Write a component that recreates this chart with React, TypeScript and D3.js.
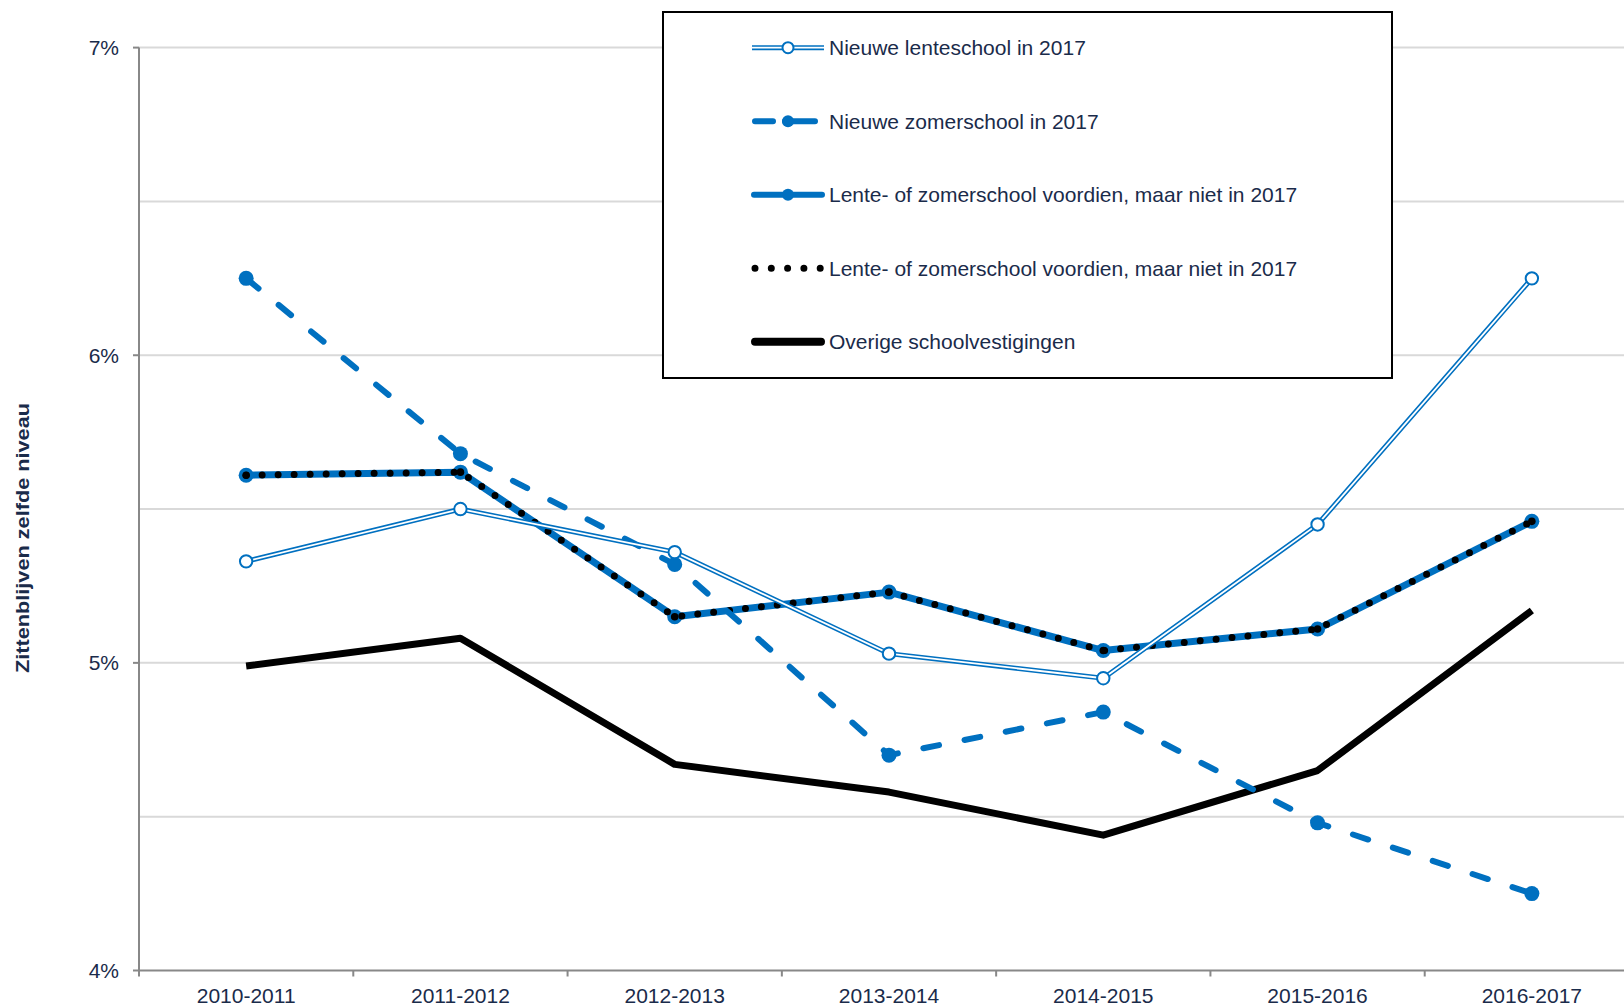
import React from 'react';
import * as d3 from 'd3';

// schooljaren op de x-as
const categories = ['2010-2011', '2011-2012', '2012-2013', '2013-2014', '2014-2015', '2015-2016', '2016-2017'];

// percentages zittenblijven per groep
const lenteNieuw = [5.33, 5.5, 5.36, 5.03, 4.95, 5.45, 6.25];
const zomerNieuw = [6.25, 5.68, 5.32, 4.7, 4.84, 4.48, 4.25];
const voordien = [5.61, 5.62, 5.15, 5.23, 5.04, 5.11, 5.46];
const overige = [4.99, 5.08, 4.67, 4.58, 4.44, 4.65, 5.17];

const gridValues = [4, 4.5, 5, 5.5, 6, 6.5, 7];
const tickLabels = [4, 5, 6, 7];

const legendLabels = [
  'Nieuwe lenteschool in 2017',
  'Nieuwe zomerschool in 2017',
  'Lente- of zomerschool voordien, maar niet in 2017',
  'Lente- of zomerschool voordien, maar niet in 2017',
  'Overige schoolvestigingen',
];

const BLUE = '#0070C0';
const TEXT = '#1A2B4A';
const FONT = '"Liberation Sans", Arial, sans-serif';

const width = 1624;
const height = 1008;

export default function App() {
  const x = d3.scaleBand<string>().domain(categories).range([139, 1639]).padding(0);
  const y = d3.scaleLinear().domain([4, 7]).range([970.5, 47.6]);
  const cx = (i: number) => (x(categories[i]) as number) + x.bandwidth() / 2;

  const line = d3
    .line<number>()
    .x((_, i) => cx(i))
    .y(d => y(d));

  const x0 = 139;
  const yBase = y(4);

  // legenda positie
  const lg = { x: 663, y: 12, w: 729, h: 366 };
  const legendY = (i: number) => 47.7 + i * 73.5;
  const sx1 = 752;
  const sx2 = 824;
  const sm = 788;

  return (
    <svg
      width={width}
      height={height}
      style={{ position: 'absolute', left: 0, top: 0, background: '#fff' }}
      fontFamily={FONT}
    >
      {/* gridlijnen */}
      {gridValues.filter(v => v > 4).map(v => (
        <line key={v} x1={x0} x2={width} y1={y(v)} y2={y(v)} stroke="#D9D9D9" strokeWidth={2} />
      ))}

      {/* assen */}
      <line x1={x0} x2={x0} y1={y(7)} y2={yBase} stroke="#888" strokeWidth={2} />
      <line x1={x0} x2={width} y1={yBase} y2={yBase} stroke="#888" strokeWidth={2} />
      {tickLabels.map(v => (
        <g key={v}>
          <line x1={x0 - 6} x2={x0} y1={y(v)} y2={y(v)} stroke="#888" strokeWidth={2} />
          <text x={119} y={y(v)} dy="0.36em" textAnchor="end" fontSize={21} fill={TEXT}>
            {v}%
          </text>
        </g>
      ))}
      {categories.map((c, i) => (
        <g key={c}>
          <line
            x1={x(c) as number}
            x2={x(c) as number}
            y1={yBase}
            y2={yBase + 6}
            stroke="#888"
            strokeWidth={2}
          />
          <text x={cx(i)} y={1003} textAnchor="middle" fontSize={21} fill={TEXT}>
            {c}
          </text>
        </g>
      ))}

      <text
        transform={`translate(29,538) rotate(-90)`}
        textAnchor="middle"
        fontSize={18}
        fontWeight="bold"
        fill={TEXT}
        textLength={270}
        lengthAdjust="spacingAndGlyphs"
      >
        Zittenblijven zelfde niveau
      </text>

      {/* overige schoolvestigingen */}
      <path d={line(overige) as string} fill="none" stroke="#000" strokeWidth={7} strokeLinejoin="round" />

      {/* lente- of zomerschool voordien: blauw + zwart gestippeld */}
      <path d={line(voordien) as string} fill="none" stroke={BLUE} strokeWidth={7} strokeLinejoin="round" />
      {voordien.map((v, i) => (
        <circle key={i} cx={cx(i)} cy={y(v)} r={7.5} fill={BLUE} />
      ))}
      <path
        d={line(voordien) as string}
        fill="none"
        stroke="#000"
        strokeWidth={7}
        strokeDasharray="0 16"
        strokeLinecap="round"
      />
      {voordien.map((v, i) => (
        <circle key={i} cx={cx(i)} cy={y(v)} r={3.8} fill="#000" />
      ))}

      {/* nieuwe zomerschool */}
      <path
        d={line(zomerNieuw) as string}
        fill="none"
        stroke={BLUE}
        strokeWidth={6}
        strokeDasharray="16 26"
        strokeLinecap="round"
      />
      {zomerNieuw.map((v, i) => (
        <circle key={i} cx={cx(i)} cy={y(v)} r={7.5} fill={BLUE} />
      ))}

      {/* nieuwe lenteschool: dubbele lijn */}
      <path d={line(lenteNieuw) as string} fill="none" stroke={BLUE} strokeWidth={5} />
      <path d={line(lenteNieuw) as string} fill="none" stroke="#fff" strokeWidth={1.8} />
      {lenteNieuw.map((v, i) => (
        <circle key={i} cx={cx(i)} cy={y(v)} r={6.2} fill="#fff" stroke={BLUE} strokeWidth={2} />
      ))}

      {/* legenda */}
      <rect x={lg.x} y={lg.y} width={lg.w} height={lg.h} fill="#fff" stroke="#000" strokeWidth={2} />
      <g>
        <line x1={sx1} x2={sx2} y1={legendY(0)} y2={legendY(0)} stroke={BLUE} strokeWidth={5} />
        <line x1={sx1} x2={sx2} y1={legendY(0)} y2={legendY(0)} stroke="#fff" strokeWidth={1.8} />
        <circle cx={sm} cy={legendY(0)} r={5.5} fill="#fff" stroke={BLUE} strokeWidth={2} />

        <line
          x1={sx1 + 3}
          x2={sx2 - 9}
          y1={legendY(1)}
          y2={legendY(1)}
          stroke={BLUE}
          strokeWidth={6}
          strokeDasharray="18 12 30"
          strokeLinecap="round"
        />
        <circle cx={sm} cy={legendY(1)} r={6} fill={BLUE} />

        <line x1={sx1 + 2} x2={sx2 - 2} y1={legendY(2)} y2={legendY(2)} stroke={BLUE} strokeWidth={6} strokeLinecap="round" />
        <circle cx={sm} cy={legendY(2)} r={6} fill={BLUE} />

        <line
          x1={sx1 + 3}
          x2={sx2}
          y1={legendY(3)}
          y2={legendY(3)}
          stroke="#000"
          strokeWidth={7}
          strokeDasharray="0 16.3"
          strokeLinecap="round"
        />

        <line x1={sx1 + 3} x2={sx2 - 3} y1={legendY(4)} y2={legendY(4)} stroke="#000" strokeWidth={8} strokeLinecap="round" />
      </g>
      {legendLabels.map((l, i) => (
        <text key={i} x={829} y={legendY(i)} dy="0.36em" fontSize={21} fill={TEXT}>
          {l}
        </text>
      ))}
    </svg>
  );
}
